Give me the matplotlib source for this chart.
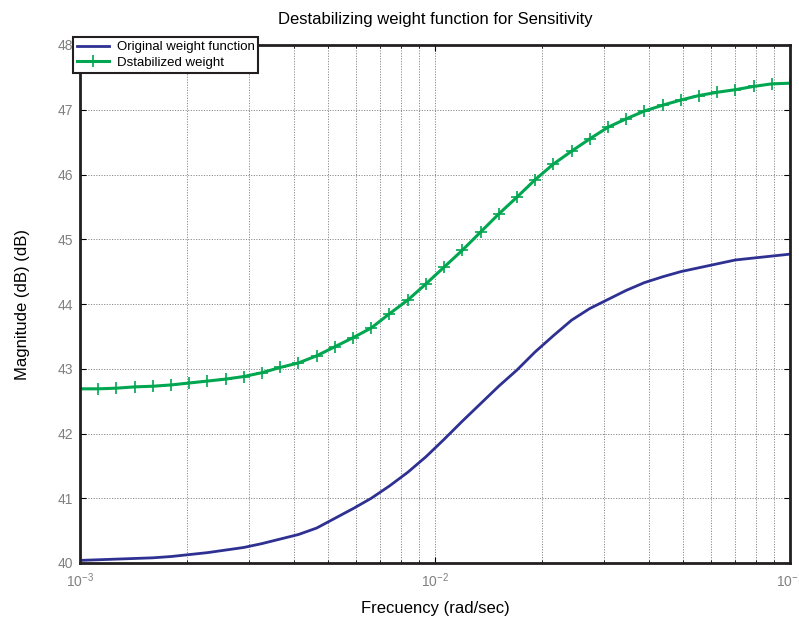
import numpy as np
import matplotlib.pyplot as plt
from matplotlib.ticker import LogLocator, NullFormatter

plt.rcParams['font.family'] = ['Liberation Sans', 'DejaVu Sans']

## Dati (40 punti log-spaziati fra 1e-3 e 1e-1)
freq = np.logspace(-3, -1, 40)

mag_orig = [40.04, 40.05, 40.06, 40.07, 40.08, 40.10, 40.13, 40.16, 40.20, 40.24,
            40.30, 40.37, 40.44, 40.54, 40.69, 40.84, 41.00, 41.19, 41.40, 41.64,
            41.91, 42.19, 42.46, 42.73, 42.98, 43.26, 43.51, 43.75, 43.93, 44.07,
            44.21, 44.33, 44.42, 44.50, 44.56, 44.62, 44.68, 44.71, 44.74, 44.77]

mag_dest = [42.69, 42.69, 42.70, 42.72, 42.73, 42.75, 42.78, 42.81, 42.84, 42.88,
            42.94, 43.02, 43.09, 43.20, 43.34, 43.48, 43.63, 43.85, 44.06, 44.31,
            44.57, 44.83, 45.11, 45.39, 45.65, 45.92, 46.16, 46.36, 46.55, 46.73,
            46.86, 46.98, 47.07, 47.15, 47.22, 47.27, 47.31, 47.36, 47.40, 47.41]

yticks = [40, 41, 42, 43, 44, 45, 46, 47, 48]

############################### Grafico ###############################
fig = plt.figure(figsize=(7.99, 6.2), dpi=100)
ax = fig.add_axes([80/799, 1-563/620, 710/799, 518/620])

ax.plot(freq, mag_orig, color='#2e3192', lw=2, label='Original weight function')
ax.plot(freq, mag_dest, color='#00a650', lw=2.2, marker='+', ms=8, mew=1.2,
        label='Dstabilized weight')

ax.set_xscale('log')
ax.set_xlim(1e-3, 1e-1)
ax.set_ylim(40, 48)
ax.set_yticks(yticks)
ax.xaxis.set_minor_locator(LogLocator(base=10, subs=np.arange(2, 10)))
ax.xaxis.set_minor_formatter(NullFormatter())

ax.grid(True, which='major', color='#8a8a8a', ls=(0, (1.2, 1.5)), lw=0.7)
ax.grid(True, which='minor', axis='x', color='#8a8a8a', ls=(0, (1.2, 1.5)), lw=0.7)

ax.tick_params(axis='both', which='both', direction='in', top=True, right=True,
               labelsize=10, labelcolor='#808080', length=4)
ax.tick_params(axis='x', which='major', pad=6)
ax.tick_params(axis='y', which='major', pad=5)
ax.tick_params(axis='x', which='minor', length=2)
for s in ax.spines.values():
    s.set_linewidth(2)
    s.set_color('#231f20')

ax.set_title('Destabilizing weight function for Sensitivity', fontsize=12, pad=15)
ax.set_xlabel('Frecuency (rad/sec)', fontsize=12, labelpad=8)
ax.set_ylabel('Magnitude (dB) (dB)', fontsize=12, labelpad=20)

leg = ax.legend(loc='upper left', bbox_to_anchor=(73/799, 1-37/620),
                bbox_transform=fig.transFigure, fontsize=9.5, fancybox=False,
                framealpha=1, edgecolor='#231f20', borderpad=0.3,
                labelspacing=0.25, handlelength=2.4, handletextpad=0.6,
                borderaxespad=0)
leg.get_frame().set_linewidth(1.5)
leg.set_zorder(10)

plt.savefig('out.png', dpi=100)
